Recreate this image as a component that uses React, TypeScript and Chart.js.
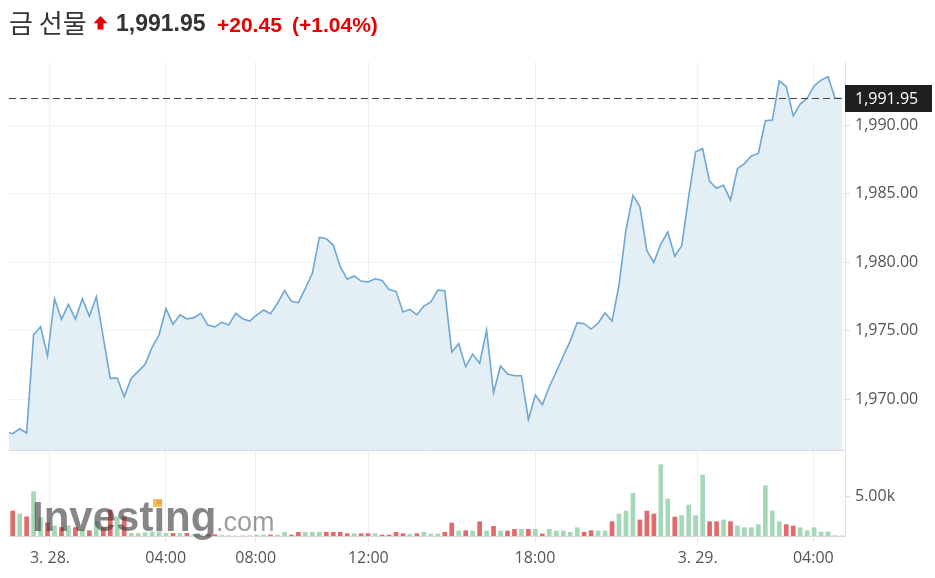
import React, { useEffect, useRef } from "react";
import { Chart, registerables } from "chart.js";

Chart.register(...registerables);

// ---- data ----
const prices: number[] = [
  1967.62, 1967.47, 1967.83, 1967.52, 1974.69, 1975.28, 1973.14, 1977.32, 1975.82, 1976.91,
  1975.84, 1977.32, 1976.04, 1977.47, 1974.5, 1971.51, 1971.53, 1970.17, 1971.51, 1972.02,
  1972.53, 1973.77, 1974.67, 1976.59, 1975.45, 1976.15, 1975.84, 1975.94, 1976.26, 1975.4,
  1975.26, 1975.6, 1975.4, 1976.26, 1975.86, 1975.69, 1976.13, 1976.5, 1976.23, 1976.99,
  1977.91, 1977.13, 1977.03, 1978.08, 1979.18, 1981.8, 1981.7, 1981.24, 1979.66, 1978.74,
  1978.98, 1978.61, 1978.54, 1978.78, 1978.66, 1978.0, 1977.86, 1976.35, 1976.55, 1976.15,
  1976.79, 1977.08, 1977.96, 1977.91, 1973.43, 1974.04, 1972.36, 1973.28, 1972.6, 1975.04,
  1970.46, 1972.41, 1971.82, 1971.7, 1971.7, 1968.51, 1970.29, 1969.58, 1970.9, 1971.99,
  1973.14, 1974.23, 1975.57, 1975.5, 1975.11, 1975.53, 1976.3, 1975.69, 1978.32, 1982.34,
  1984.87, 1984.04, 1980.83, 1979.98, 1981.31, 1982.19, 1980.42, 1981.19, 1984.77, 1988.05,
  1988.27, 1985.89, 1985.38, 1985.6, 1984.53, 1986.81, 1987.18, 1987.74, 1987.93, 1990.31,
  1990.36, 1993.23, 1992.8, 1990.66, 1991.53, 1991.95, 1992.85, 1993.28, 1993.53, 1991.95,
  1991.95,
];

const volumes: (number | null)[] = [
  null, 3125, 2750, 2400, 5540, 2300, 1650, 1270, 1060, 1270,
  1060, 750, 650, 1790, 1060, 3250, 2400, 2400, 330, 330,
  400, 500, 520, 330, 330, 330, 330, 170, 170, 170,
  170, 60, 0, 0, 0, 0, 125, 125, 125, 125,
  460, 125, 460, 460, 460, 460, 460, 460, 460, 290,
  290, 290, 290, 290, 125, 125, 460, 290, 210, 290,
  460, 250, 250, 460, 1625, 625, 670, 625, 1790, 625,
  1210, 625, 625, 830, 830, 830, 830, 250, 830, 625,
  625, 460, 1040, 460, 670, 625, 625, 1790, 2750, 3125,
  5330, 2000, 3125, 2750, 8917, 4625, 2375, 2540, 3875, 2540,
  7625, 1790, 1790, 2000, 1790, 1250, 1040, 1040, 1420, 6290,
  3125, 1790, 1420, 1250, 1040, 670, 1040, 500, 500, 0,
  0,
];

const priceTicks = [1970, 1975, 1980, 1985, 1990];
const volumeTicks = [5000];
const xTickPositions = [6.35, 22.96, 35.87, 52.03, 75.95, 99.29, 115.88];
const xTickLabels = ["3. 28.", "04:00", "08:00", "12:00", "18:00", "3. 29.", "04:00"];
const lastPrice = 1991.95;
const titleName = "금 선물";
const titlePrice = "1,991.95";
const titleChange = "+20.45";
const titleChangePct = "(+1.04%)";

const FONT = "'Open Sans', 'Noto Sans', sans-serif";
const GREEN = "rgb(164,216,183)";
const RED = "rgb(226,106,106)";

const fmtPrice = (v: number) =>
  v.toLocaleString("en-US", { minimumFractionDigits: 2, maximumFractionDigits: 2 });

export default function App() {
  const ref = useRef<HTMLCanvasElement | null>(null);

  useEffect(() => {
    if (!ref.current) return;
    const pricePts = prices.map((v, i) => ({ x: i, y: v }));
    const volPts = volumes.map((v, i) => ({ x: i, y: v }));
    const volColors = volumes.map((_, i) =>
      i > 0 && prices[i] < prices[i - 1] ? RED : GREEN
    );

    const overlay = {
      id: "overlay",
      afterDatasetsDraw(chart: any) {
        const { ctx, chartArea, scales } = chart;
        const y = scales.y;
        ctx.save();
        // separator between panels
        ctx.strokeStyle = "#dadae0";
        ctx.lineWidth = 1;
        ctx.beginPath();
        ctx.moveTo(chartArea.left - 1, Math.round(y.bottom) + 0.5);
        ctx.lineTo(chartArea.right, Math.round(y.bottom) + 0.5);
        ctx.stroke();

        // watermark
        ctx.textBaseline = "alphabetic";
        ctx.textAlign = "left";
        ctx.font = "bold 42px 'Liberation Sans', Arial, sans-serif";
        ctx.fillStyle = "rgba(60,60,60,0.62)";
        ctx.fillText("Investing", 32, 531);
        ctx.fillStyle = "rgba(250,178,60,0.85)";
        ctx.fillRect(153, 499, 9, 8);
        ctx.font = "27px 'Liberation Sans', Arial, sans-serif";
        ctx.fillStyle = "rgba(60,60,60,0.5)";
        ctx.fillText(".com", 216, 531);

        // last price dashed line
        const py = Math.round(y.getPixelForValue(lastPrice)) + 0.5;
        ctx.strokeStyle = "#444";
        ctx.setLineDash([7, 4]);
        ctx.beginPath();
        ctx.moveTo(chartArea.left, py);
        ctx.lineTo(chartArea.right, py);
        ctx.stroke();
        ctx.setLineDash([]);

        // price tag
        ctx.fillStyle = "#1f1f1f";
        ctx.fillRect(chartArea.right, py - 13.5, 87, 27);
        ctx.fillStyle = "#ffffff";
        ctx.font = `16px ${FONT}`;
        ctx.textBaseline = "middle";
        ctx.fillText(fmtPrice(lastPrice), chartArea.right + 10, py + 1);
        ctx.restore();
      },
    };

    const chart = new Chart(ref.current, {
      type: "bar",
      data: {
        datasets: [
          {
            type: "line",
            data: pricePts,
            yAxisID: "y",
            borderColor: "#6fa7d4",
            borderWidth: 1.6,
            backgroundColor: "#e4eef5",
            fill: "start",
            pointRadius: 0,
            tension: 0,
          } as any,
          {
            type: "bar",
            data: volPts,
            yAxisID: "yVol",
            backgroundColor: volColors,
            barThickness: 4,
          } as any,
        ],
      },
      options: {
        animation: false,
        responsive: false,
        maintainAspectRatio: false,
        layout: { padding: { left: 9, top: 62, right: 0, bottom: 0 } },
        plugins: { legend: { display: false }, tooltip: { enabled: false } },
        scales: {
          x: {
            type: "linear",
            min: 0.47,
            max: 120.43,
            offset: false,
            afterBuildTicks: (s: any) => {
              s.ticks = xTickPositions.map((v) => ({ value: v }));
            },
            afterFit: (s: any) => {
              s.height = 42;
            },
            ticks: {
              autoSkip: false,
              maxRotation: 0,
              padding: 7,
              color: "#555",
              font: { family: FONT, size: 16 },
              callback: (_v: any, i: number) => xTickLabels[i],
            },
            grid: { offset: false, color: "#efeff3", tickLength: 6, tickColor: "#e4e4ea" },
            border: { color: "#d9d9e0" },
          },
          y: {
            type: "linear",
            position: "right",
            stack: "panels",
            stackWeight: 388,
            min: 1966.28,
            max: 1994.6,
            afterBuildTicks: (s: any) => {
              s.ticks = priceTicks.map((v) => ({ value: v }));
            },
            afterFit: (s: any) => {
              s.width = 90;
            },
            ticks: {
              padding: 5,
              color: "#555",
              font: { family: FONT, size: 16 },
              callback: (v: any) => fmtPrice(Number(v)),
            },
            grid: { color: "#f3f3f5", tickLength: 5, tickColor: "#dcdce2" },
            border: { color: "#e0e0e8" },
          },
          yVol: {
            type: "linear",
            position: "right",
            stack: "panels",
            stackWeight: 86,
            min: 0,
            max: 10750,
            afterBuildTicks: (s: any) => {
              s.ticks = volumeTicks.map((v) => ({ value: v }));
            },
            afterFit: (s: any) => {
              s.width = 90;
            },
            ticks: {
              padding: 5,
              color: "#555",
              font: { family: FONT, size: 16 },
              callback: (v: any) => (Number(v) / 1000).toFixed(2) + "k",
            },
            grid: { drawOnChartArea: false, tickLength: 5, tickColor: "#dcdce2" },
            border: { color: "#e0e0e8" },
          },
        },
      } as any,
      plugins: [overlay],
    });
    return () => chart.destroy();
  }, []);

  const base: React.CSSProperties = {
    position: "absolute",
    lineHeight: 1,
    whiteSpace: "nowrap",
  };

  return (
    <div
      style={{
        position: "fixed",
        left: 0,
        top: 0,
        width: 935,
        height: 578,
        background: "#fff",
        overflow: "hidden",
      }}
    >
      <canvas ref={ref} width={935} height={578} style={{ position: "absolute", left: 0, top: 0 }} />
      <span
        style={{
          ...base,
          left: 9,
          top: 8.8,
          fontFamily: "'Noto Sans CJK KR', sans-serif",
          fontSize: 26,
          color: "#333",
        }}
      >
        {titleName}
      </span>
      <svg
        style={{ position: "absolute", left: 93, top: 16 }}
        width={15}
        height={14}
        viewBox="0 0 15 14"
      >
        <polygon points="7.5,0 14.5,7.2 10.5,7.2 10.5,13.5 4.5,13.5 4.5,7.2 0.5,7.2" fill="#e60000" />
      </svg>
      <span
        style={{
          ...base,
          left: 116,
          top: 12.2,
          fontFamily: "'Liberation Sans', Arial, sans-serif",
          fontWeight: "bold",
          fontSize: 23,
          color: "#333",
        }}
      >
        {titlePrice}
      </span>
      <span
        style={{
          ...base,
          left: 217,
          top: 13.9,
          fontFamily: "'Liberation Sans', Arial, sans-serif",
          fontWeight: "bold",
          fontSize: 21,
          color: "#e60000",
        }}
      >
        {titleChange}
      </span>
      <span
        style={{
          ...base,
          left: 292,
          top: 13.9,
          fontFamily: "'Liberation Sans', Arial, sans-serif",
          fontWeight: "bold",
          fontSize: 21,
          color: "#e60000",
        }}
      >
        {titleChangePct}
      </span>
    </div>
  );
}
